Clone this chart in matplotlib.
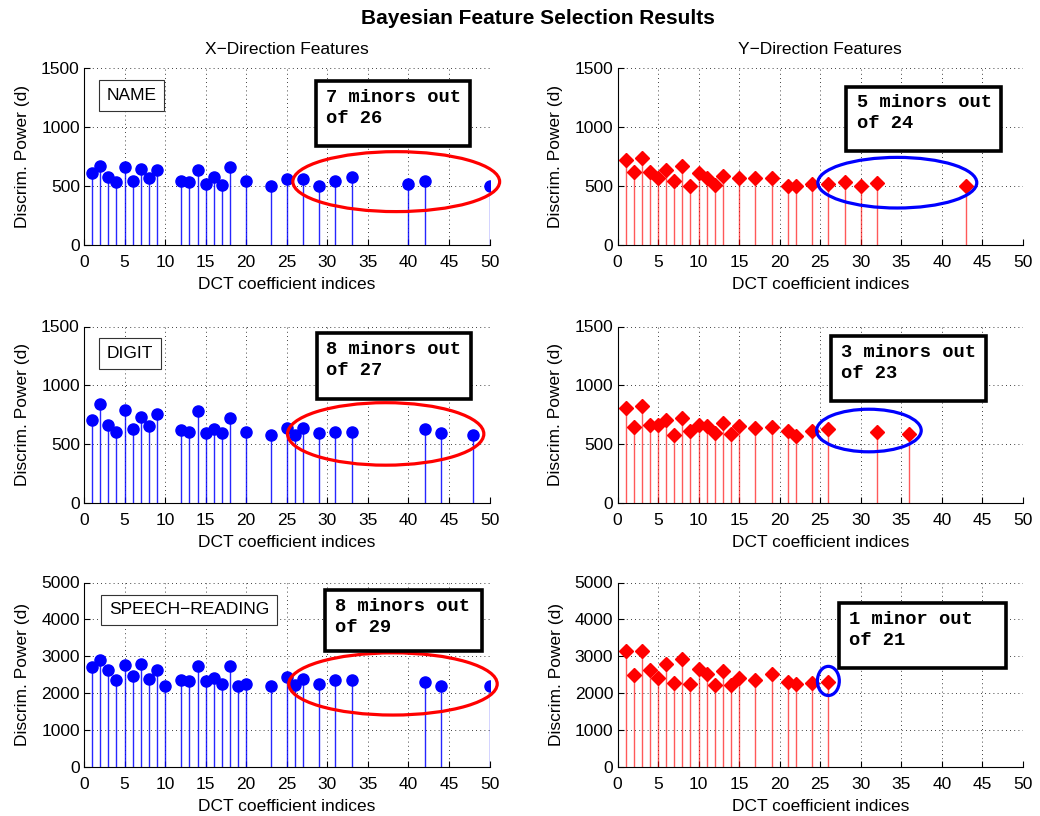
import matplotlib
matplotlib.use("Agg")
import matplotlib.pyplot as plt
from matplotlib.patches import Ellipse, Rectangle

plt.rcParams['font.family'] = ['Liberation Sans', 'DejaVu Sans']

# selected DCT coefficient indices and their discrimination power
name_x_idx = [1, 2, 3, 4, 5, 6, 7, 8, 9, 12, 13, 14, 15, 16, 17, 18, 20, 23, 25, 27, 29, 31, 33, 40, 42, 50]
name_x_val = [607, 667, 573, 537, 661, 545, 644, 565, 636, 545, 531, 636, 520, 576, 511, 661, 542, 503, 562,
              559, 503, 540, 573, 517, 540, 503]
name_y_idx = [1, 2, 3, 4, 5, 6, 7, 8, 9, 10, 11, 12, 13, 15, 17, 19, 21, 22, 24, 26, 28, 30, 32, 43]
name_y_val = [720, 616, 734, 616, 568, 638, 540, 667, 503, 610, 565, 511, 588, 571, 568, 568, 503, 503, 517,
              517, 534, 497, 523, 503]

digit_x_idx = [1, 2, 3, 4, 5, 6, 7, 8, 9, 12, 13, 14, 15, 16, 17, 18, 20, 23, 25, 26, 27, 29, 31, 33, 42, 44, 48]
digit_x_val = [704, 838, 665, 605, 787, 631, 727, 651, 756, 622, 602, 784, 599, 633, 594, 719, 605, 582, 639,
               580, 639, 597, 602, 602, 625, 594, 582]
digit_y_idx = [1, 2, 3, 4, 5, 6, 7, 8, 9, 10, 11, 12, 13, 14, 15, 17, 19, 21, 22, 24, 26, 32, 36]
digit_y_val = [805, 647, 825, 664, 661, 706, 579, 720, 613, 664, 658, 596, 678, 588, 658, 638, 647, 613, 571,
               613, 627, 602, 585]

speech_x_idx = [1, 2, 3, 4, 5, 6, 7, 8, 9, 10, 12, 13, 14, 15, 16, 17, 18, 19, 20, 23, 25, 26, 27, 29, 31, 33,
                42, 44, 50]
speech_x_val = [2709, 2906, 2619, 2368, 2753, 2457, 2798, 2386, 2619, 2206, 2350, 2323, 2736, 2332, 2422, 2251,
                2736, 2206, 2260, 2206, 2431, 2233, 2386, 2242, 2350, 2368, 2296, 2206, 2206]
speech_y_idx = [1, 2, 3, 4, 5, 6, 7, 8, 9, 10, 11, 12, 13, 14, 15, 17, 19, 21, 22, 24, 26]
speech_y_val = [3157, 2493, 3157, 2637, 2413, 2789, 2269, 2915, 2260, 2655, 2520, 2224, 2592, 2233, 2422, 2368,
                2520, 2296, 2251, 2287, 2314]

task_labels = ['NAME', 'DIGIT', 'SPEECH\u2212READING']
minor_texts = ['7 minors out\nof 26', '5 minors out\nof 24',
               '8 minors out\nof 27', '3 minors out\nof 23',
               '8 minors out\nof 29', '1 minor out\nof 21']
y_limits = [1500, 1500, 5000]
y_steps = [500, 500, 1000]

# ellipse around minor coefficients: (center x, center y, width, height)
ellipses = [(38.5, 537, 25.5, 508), (34.5, 528, 19.6, 429),
            (37.2, 587, 24.2, 531), (31.0, 616, 12.9, 362),
            (38.1, 2251, 25.7, 1686), (26.0, 2332, 2.7, 790)]
# minor box in axes fraction: x0, y0, x1, y1, text x, text y
minor_boxes = [(0.571, 0.559, 0.953, 0.928, 0.597, 0.773),
               (0.5635, 0.533, 0.946, 0.894, 0.590, 0.744),
               (0.574, 0.589, 0.954, 0.961, 0.598, 0.808),
               (0.5265, 0.580, 0.909, 0.946, 0.551, 0.793),
               (0.594, 0.630, 0.981, 0.959, 0.619, 0.813),
               (0.547, 0.535, 0.957, 0.891, 0.572, 0.743)]
label_pos = [(0.1175, 0.843), (0.1126, 0.848), (0.259, 0.851)]

# axes placement in pixels: left, top, right, bottom
W, H = 1040, 816
cols = [(84, 489.5), (617.5, 1023)]
rows = [(68, 245), (326.5, 503), (582.5, 767)]


def draw_panel(ax, idx, val, is_x, row, k):
    if is_x:
        c, mk = 'blue', 'o'
        ms = 8
        stem_alpha = 0.85
        ell_col = 'red'
    else:
        c, mk = 'red', 'D'
        ms = 7
        stem_alpha = 0.65
        ell_col = 'blue'
    markerline, stemlines, baseline = ax.stem(idx, val, basefmt=' ')
    stemlines.set_color(c)
    stemlines.set_linewidth(1.0)
    stemlines.set_alpha(stem_alpha)
    markerline.set_marker(mk)
    markerline.set_markersize(ms)
    markerline.set_markerfacecolor(c)
    markerline.set_markeredgecolor(c)
    markerline.set_zorder(3)

    ax.set_xlim(0, 50)
    ax.set_ylim(0, y_limits[row])
    ax.set_xticks(range(0, 51, 5))
    ax.set_yticks(range(0, y_limits[row] + 1, y_steps[row]))
    ax.tick_params(direction='in', length=4, labelsize=12.5, width=0.8)
    ax.tick_params(axis='x', pad=7)
    ax.tick_params(axis='y', pad=3)
    ax.spines['top'].set_visible(False)
    ax.spines['right'].set_visible(False)
    ax.grid(True, color='black', linestyle=(0, (1, 4)), linewidth=0.6)
    ax.set_axisbelow(True)
    ax.set_xlabel('DCT coefficient indices', fontsize=12.5, labelpad=5)
    ax.set_ylabel('Discrim. Power (d)', fontsize=12.5, labelpad=8)

    cx, cy, ew, eh = ellipses[k]
    ax.add_patch(Ellipse((cx, cy), ew, eh, fill=False, edgecolor=ell_col, linewidth=2.3,
                         clip_on=False, zorder=4))

    x0, y0, x1, y1, tx, ty = minor_boxes[k]
    ax.add_patch(Rectangle((x0, y0), x1 - x0, y1 - y0, transform=ax.transAxes, facecolor='white',
                           edgecolor='black', linewidth=2.6, zorder=5, clip_on=False))
    ax.text(tx, ty, minor_texts[k], transform=ax.transAxes, family=['Liberation Mono', 'DejaVu Sans Mono'],
            fontweight='bold', fontsize=13.5, va='center', ha='left', linespacing=1.3, zorder=6)

    if is_x:
        lx, ly = label_pos[row]
        ax.text(lx, ly, task_labels[row], transform=ax.transAxes, fontsize=12.5, ha='center', va='center',
                zorder=6, bbox=dict(boxstyle='square,pad=0.45', facecolor='white', edgecolor='#333333',
                                    linewidth=0.8))


fig = plt.figure(figsize=(W / 100, H / 100), dpi=100)
data = [(name_x_idx, name_x_val, name_y_idx, name_y_val),
        (digit_x_idx, digit_x_val, digit_y_idx, digit_y_val),
        (speech_x_idx, speech_x_val, speech_y_idx, speech_y_val)]

for r, (top, bot) in enumerate(rows):
    for ci, (left, right) in enumerate(cols):
        ax = fig.add_axes([left / W, 1 - bot / H, (right - left) / W, (bot - top) / H])
        xi, xv, yi, yv = data[r]
        if ci == 0:
            draw_panel(ax, xi, xv, True, r, 2 * r)
        else:
            draw_panel(ax, yi, yv, False, r, 2 * r + 1)
        if r == 0:
            ax.set_title('X\u2212Direction Features' if ci == 0 else 'Y\u2212Direction Features',
                         fontsize=12.5, pad=10)

fig.text(0.517, 0.977, 'Bayesian Feature Selection Results', fontsize=15, fontweight='bold',
         ha='center', va='center')

fig.savefig('out.png', dpi=100)
